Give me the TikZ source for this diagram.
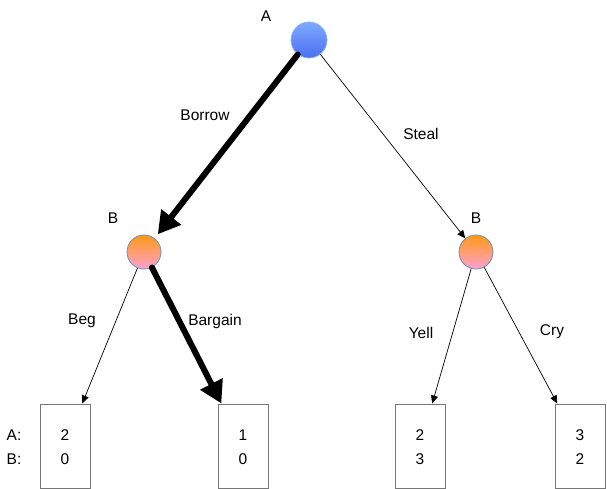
\documentclass[tikz,border=0pt]{standalone}
\usepackage{fontspec}
\setmainfont{Liberation Sans}
\usetikzlibrary{arrows.meta}
\definecolor{blueTop}{HTML}{7EAAFF}
\definecolor{blueBot}{HTML}{4A6FF0}
\definecolor{blueEdge}{HTML}{8CB4F0}
\definecolor{orTop}{HTML}{FF9A14}
\definecolor{orBot}{HTML}{FFA0D0}
\definecolor{orEdge}{HTML}{6C8EBF}
\definecolor{boxEdge}{HTML}{777777}
\tikzset{
  x=1pt, y=-1pt,
  every node/.style={font=\fontsize{15.5}{18}\selectfont, inner sep=0pt},
  playerA/.style={circle, minimum size=36pt, top color=blueTop, bottom color=blueBot, draw=blueEdge, line width=0.8pt},
  playerB/.style={circle, minimum size=34pt, top color=orTop, bottom color=orBot, draw=orEdge, line width=0.8pt},
  payoff/.style={rectangle, draw=boxEdge, line width=1pt, minimum width=50pt, minimum height=84pt},
  thinarrow/.style={draw=black, line width=0.7pt, -{Triangle[length=8pt,width=7pt]}},
  thickarrow/.style={draw=black, line width=6pt, line cap=round, -{Triangle[length=22pt,width=24pt]}, shorten >=5pt},
  lbl/.style={}
}
\begin{document}
\begin{tikzpicture}
\useasboundingbox (0,0) rectangle (607,489);
% nodes
\node[playerA] (A) at (309,40) {};
\node[playerB] (BL) at (144,252) {};
\node[playerB] (BR) at (476,252) {};
\node[lbl] (tA) at (266,16) {A};
\node[lbl] (tBL) at (113,218) {B};
\node[lbl] (tBR) at (476,218) {B};
% payoff boxes
\node[payoff] (p1) at (65,446) {};
\node[payoff] (p2) at (243,446) {};
\node[payoff] (p3) at (420,446) {};
\node[payoff] (p4) at (580,446) {};
\node (p1a) at (65,435) {2};
\node (p1b) at (65,459) {0};
\node (p2a) at (243,435) {1};
\node (p2b) at (243,459) {0};
\node (p3a) at (420,435) {2};
\node (p3b) at (420,459) {3};
\node (p4a) at (580,435) {3};
\node (p4b) at (580,459) {2};
\node (la) at (14,435) {A:};
\node (lb) at (14,459) {B:};
% edges
\draw[thickarrow] (A) -- (BL);
\draw[thinarrow] (A) -- (BR);
\draw[thinarrow] (BL) -- (p1);
\draw[thickarrow, shorten >=0pt] (BL) -- (p2);
\draw[thinarrow] (BR) -- (p3);
\draw[thinarrow] (BR) -- (p4);
% edge labels
\node (e1) at (205,115) {Borrow};
\node (e2) at (421,134) {Steal};
\node (e3) at (82,321) {Beg};
\node (e4) at (215,321) {Bargain};
\node (e5) at (421,333) {Yell};
\node (e6) at (552,332) {Cry};
\end{tikzpicture}
\end{document}
